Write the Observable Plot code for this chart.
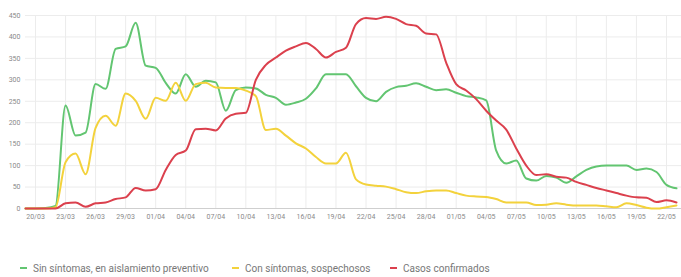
<!DOCTYPE html>
<html><head><meta charset="utf-8">
<script src="https://cdn.jsdelivr.net/npm/d3@7"></script>
<script src="https://cdn.jsdelivr.net/npm/@observablehq/plot@0.6"></script>
<style>
body{margin:0;background:#fff;font-family:Roboto,"Noto Sans",sans-serif;width:681px;height:277px;overflow:hidden;}
#legend{position:relative;height:52px;}
.item{position:absolute;top:38px;font-size:10px;color:#777;white-space:nowrap;line-height:12px;}
.item span.sw{display:inline-block;width:7px;height:2px;vertical-align:middle;margin-right:6px;position:relative;top:-1px;}
</style></head><body><div id="chart"></div><div id="legend"></div>
<script>
const firstDay = "2020-03-19";
const lastDay = "2020-05-23";
const seriesNames = ["Sin síntomas, en aislamiento preventivo", "Con síntomas, sospechosos", "Casos confirmados"];
const seriesColors = ["#62c571", "#f3d23c", "#db404d"];
const sinSintomas = [0,0,1,6,240,170,177,290,279,372,378,433,333,328,293,268,313,284,298,294,228,276,282,280,265,258,242,247,256,280,313,313,313,285,258,250,272,283,286,292,284,276,278,270,262,259,252,135,105,112,70,65,76,72,60,75,90,98,100,100,100,90,93,85,55,47];
const conSintomas = [0,0,0,3,108,128,80,188,216,193,268,251,209,258,251,293,251,290,293,282,281,281,275,262,183,186,170,152,140,120,105,105,130,68,56,53,51,45,38,36,40,42,42,36,30,28,27,22,14,14,14,8,9,12,9,7,7,7,5,3,12,8,2,0,3,7];
const confirmados = [0,0,0,0,12,14,4,12,14,22,26,48,42,45,90,125,135,185,186,182,210,221,223,300,335,352,368,378,386,372,352,365,375,430,444,442,447,442,430,426,408,406,340,290,275,255,228,205,184,140,100,78,80,74,72,62,55,48,42,36,30,26,25,15,19,14];
const xTickLabels = ["20/03","23/03","26/03","29/03","01/04","04/04","07/04","10/04","13/04","16/04","19/04","22/04","25/04","28/04","01/05","04/05","07/05","10/05","13/05","16/05","19/05","22/05"];
const yTicks = [0,50,100,150,200,250,300,350,400,450];

const parseLabel = s => { const [d, m] = s.split("/"); return new Date(Date.UTC(2020, +m - 1, +d)); };
const dates = d3.utcDay.range(new Date(firstDay), d3.utcDay.offset(new Date(lastDay), 1));
const seriesValues = [sinSintomas, conSintomas, confirmados];
const rows = [];
seriesValues.forEach((vals, k) => vals.forEach((v, i) => rows.push({date: dates[i], value: v, serie: seriesNames[k]})));
const xTicks = xTickLabels.map(parseLabel);

const chart = Plot.plot({
  width: 681, height: 225,
  marginLeft: 25, marginRight: 0, marginTop: 15, marginBottom: 17,
  style: {fontSize: "7px", fontFamily: "Roboto, 'Noto Sans', sans-serif", color: "#8a8a8a", background: "#fff"},
  x: {type: "utc", domain: [dates[0], new Date(Date.UTC(2020, 4, 23, 12))], ticks: xTicks, tickFormat: d => xTickLabels[xTicks.findIndex(t => +t === +d)], tickSize: 0, tickPadding: 6, label: null},
  y: {domain: [0, 450], ticks: yTicks, tickSize: 0, tickPadding: 5, label: null},
  color: {domain: seriesNames, range: seriesColors},
  marks: [
    Plot.gridX(xTicks, {stroke: "#ececec", strokeOpacity: 1}),
    Plot.gridY(yTicks, {stroke: "#ececec", strokeOpacity: 1}),
    Plot.ruleY([0], {stroke: "#cfcfcf", strokeWidth: 1.2}),
    Plot.lineY(rows, {x: "date", y: "value", z: "serie", stroke: "serie", curve: "monotone-x", strokeWidth: 2})
  ]
});
document.getElementById("chart").appendChild(chart);

const legend = document.getElementById("legend");
const legendLeft = [20, 232, 390];
seriesNames.forEach((n, i) => {
  const d = document.createElement("div");
  d.className = "item";
  d.style.left = legendLeft[i] + "px";
  d.innerHTML = `<span class="sw" style="background:${seriesColors[i]}"></span>${n}`;
  legend.appendChild(d);
});
</script></body></html>
